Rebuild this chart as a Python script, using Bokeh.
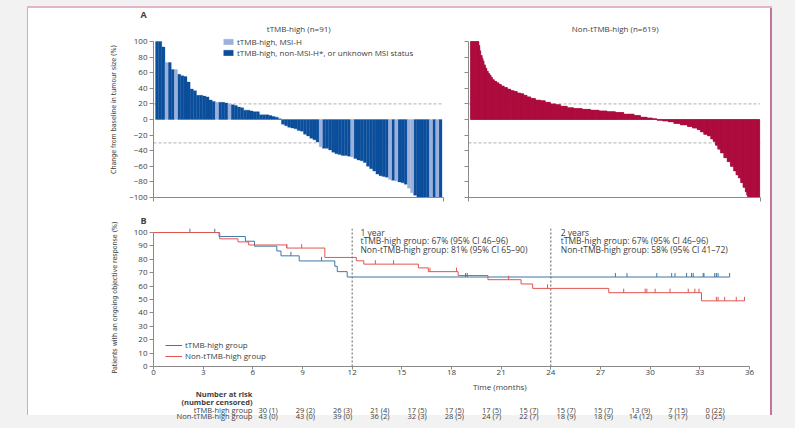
import numpy as np
from bokeh.plotting import figure
from bokeh.models import (Range1d, FixedTicker, Label, Legend, LegendItem, ColumnDataSource,
                          Span, Title, CustomLabelingPolicy)
from bokeh.layouts import column, row
from bokeh.embed import file_html
from bokeh.resources import INLINE

# ---------------- data ----------------
# Panel A: tTMB-high waterfall (91 patients, sorted)
tmb_change = [100, 100, 93, 73, 73, 64, 64, 58, 56, 55,
              48, 39, 37, 31, 31, 30, 29, 25, 23, 22,
              22, 22, 21, 20, 19, 18, 16, 15, 12, 12,
              11, 10, 10, 6, 6, 6, 5, 4, 3, 1,
              -6, -8, -10, -11, -12, -14, -15, -19, -21, -24,
              -26, -29, -35, -37, -37, -39, -42, -44, -45, -46,
              -46, -47, -48, -50, -52, -53, -55, -60, -63, -66,
              -70, -72, -73, -74, -77, -78, -79, -80, -81, -83,
              -88, -94, -97, -100, -100, -100, -100, -100, -100, -100, -100]
tmb_msih_idx = [3, 6, 19, 23, 52, 62, 74, 76, 80, 81, 87, 89]

# Panel A: non-tTMB-high waterfall (619 patients) as value levels and patient counts
non_levels = [100, 95, 88, 82, 78, 75, 70, 66, 62, 59,
              57, 54, 51, 49, 47, 45, 43, 41, 39, 37,
              36, 34, 33, 31, 29, 27, 25, 24, 22, 20,
              19, 17, 15, 14, 13, 12, 11, 10, 9, 7,
              5, 3, 2, 1, -1, -2, -3, -5, -7, -9,
              -11, -13, -16, -19, -21, -25, -28, -33, -38, -43,
              -49, -54, -60, -66, -71, -75, -81, -87, -93, -97,
              -100]
non_counts = [18, 2, 2, 3, 2, 2, 3, 3, 3, 3,
              3, 3, 4, 5, 5, 5, 6, 7, 7, 7,
              7, 7, 7, 7, 8, 10, 11, 10, 11, 11,
              11, 14, 14, 18, 18, 18, 17, 18, 18, 22,
              14, 14, 11, 10, 12, 12, 12, 14, 15, 11,
              10, 7, 7, 8, 7, 5, 5, 5, 6, 7,
              7, 7, 7, 5, 5, 5, 5, 5, 3, 2,
              26]

# Panel B: Kaplan-Meier duration of response
blue_t = [0, 3.96, 5.55, 6.1, 7.45, 7.7, 8.8, 10.95, 11.1, 11.7, 34.8]
blue_s = [100, 97, 93.5, 89.8, 86.2, 82.6, 78.8, 74.8, 70.8, 66.8, 66.8]
blue_cens_t = [2.2, 3.7, 8.3, 10.15, 18.85, 18.95, 27.9, 28.6, 30.4, 31.3, 31.5,
               32.2, 32.5, 32.6, 33.2, 33.25, 33.9, 34.0, 34.1, 34.8]

red_t = [0, 4.0, 5.1, 5.75, 8.05, 10.35, 12.25, 12.7, 16.0, 16.6, 18.4, 20.2,
         22.2, 22.9, 27.5, 33.1, 35.7]
red_s = [100, 95.3, 93.0, 90.7, 88.4, 81.4, 78.9, 76.4, 73.6, 70.8, 67.9, 64.8,
         61.6, 58.3, 55.1, 49.0, 49.0]
red_cens_t = [8.05, 8.95, 13.4, 14.5, 16.7, 18.3, 21.45, 23.8, 28.4, 29.7, 29.8,
              30.3, 31.2, 32.3, 32.7, 32.95, 34.0, 34.1, 34.5, 35.2, 35.7]

risk_months = [0, 3, 6, 9, 12, 15, 18, 21, 24, 27, 30, 33, 36]
risk_tmb = ["30 (1)", "29 (2)", "26 (3)", "21 (4)", "17 (5)", "17 (5)", "17 (5)",
            "15 (7)", "15 (7)", "15 (7)", "13 (9)", "7 (15)", "0 (22)"]
risk_non = ["43 (0)", "43 (0)", "39 (0)", "36 (2)", "32 (3)", "28 (5)", "24 (7)",
            "22 (7)", "18 (9)", "18 (9)", "14 (12)", "9 (17)", "0 (25)"]

ann_1y = ["1 year", "tTMB-high group: 67% (95% CI 46\u201396)",
          "Non-tTMB-high group: 81% (95% CI 65\u201390)"]
ann_2y = ["2 years", "tTMB-high group: 67% (95% CI 46\u201396)",
          "Non-tTMB-high group: 58% (95% CI 41\u201372)"]

# ---------------- style ----------------
FONT = "Open Sans"
NARROW = "'Liberation Sans Narrow', 'DejaVu Sans Condensed', 'Roboto', sans-serif"
TXT = "#404040"
AX = "#8a8a8a"
DARK_BLUE = "#0b4e9b"
LIGHT_BLUE = "#9cb0dc"
CRIMSON = "#ad0a3d"
KM_BLUE = "#3f77a8"
KM_RED = "#e2554f"

HIDE_LABELS = CustomLabelingPolicy(code="for (const i of indices) { indices.unset(i) }; return indices")


def base_style(p):
    p.xgrid.visible = False
    p.ygrid.visible = False
    p.outline_line_color = None
    p.border_fill_color = None
    p.background_fill_color = None
    for ax in p.axis:
        ax.axis_line_color = AX
        ax.major_tick_line_color = AX
        ax.minor_tick_line_color = None
        ax.major_tick_out = 4
        ax.major_tick_in = 0
        ax.major_label_text_font = FONT
        ax.major_label_text_font_size = "8px"
        ax.major_label_text_color = TXT
        ax.major_label_standoff = 2
        ax.axis_label_text_font = NARROW
        ax.axis_label_text_font_style = "normal"
        ax.axis_label_text_font_size = "7px"
        ax.axis_label_text_color = TXT


def hide_labels(ax):
    ax.major_label_policy = HIDE_LABELS
    ax.major_label_text_font_size = "1px"
    ax.major_label_standoff = 0


def add_label(p, x, y, text, size="8px", align="left", bold=False, color=TXT):
    p.add_layout(Label(x=x, y=y, text=text, text_font=FONT, text_font_size=size,
                       text_color=color, text_align=align, text_baseline="middle",
                       text_font_style="bold" if bold else "normal"))


def panel_letter(p, text, standoff):
    p.add_layout(Title(text=text, align="left", offset=-13, standoff=standoff, text_font=FONT,
                       text_font_size="9px", text_font_style="bold", text_color=TXT), "above")


# layout (pixels)
W = 795
A_H = 210
A_TOP = 21        # frame top of panel A
A_BOT = 13
A1_W = 453
B_H = 170
B_TOP = 14
B_BOT = 14
B_RIGHT = 46
R_H = 48
LEFT = 153

# ---------------- Panel A, left ----------------
a_frame_h = A_H - A_TOP - A_BOT
a_y_end = -100 + a_frame_h / (156.0 / 200.0)

n_tmb = len(tmb_change)
tmb_x = np.arange(n_tmb) + 0.5
is_msih = np.isin(np.arange(n_tmb), tmb_msih_idx)
tmb_vals = np.array(tmb_change, dtype=float)
src_msih = ColumnDataSource(dict(x=tmb_x[is_msih], v=tmb_vals[is_msih]))
src_other = ColumnDataSource(dict(x=tmb_x[~is_msih], v=tmb_vals[~is_msih]))

xa1 = Range1d(-0.64, n_tmb + 0.48)
pA1 = figure(width=A1_W, height=A_H, x_range=xa1, y_range=Range1d(-100, a_y_end),
             output_backend="svg", toolbar_location=None,
             min_border_left=LEFT, min_border_right=10, min_border_top=A_TOP, min_border_bottom=A_BOT)
for lvl in (20, -30):
    pA1.add_layout(Span(location=lvl, dimension="width", line_color="#9a9a9a",
                        line_dash="3 2", line_width=0.8, level="underlay"))
r_other = pA1.vbar(x="x", top="v", bottom=0, width=1, source=src_other,
                   fill_color=DARK_BLUE, line_color=DARK_BLUE, line_width=0.3)
r_msih = pA1.vbar(x="x", top="v", bottom=0, width=1, source=src_msih,
                  fill_color=LIGHT_BLUE, line_color=LIGHT_BLUE, line_width=0.3)
base_style(pA1)
pA1.yaxis.ticker = FixedTicker(ticks=list(range(-100, 101, 20)))
pA1.yaxis.bounds = (-100, 100)
pA1.xaxis.ticker = FixedTicker(ticks=[xa1.start, xa1.end])
hide_labels(pA1.xaxis[0])
pA1.yaxis.axis_label = "Change from baseline in tumour size (%)"
pA1.yaxis.axis_label_standoff = 8

legA = Legend(items=[LegendItem(label="tTMB-high, MSI-H", renderers=[r_msih]),
                     LegendItem(label="tTMB-high, non-MSI-H*, or unknown MSI status", renderers=[r_other])],
              location=(69, 139), border_line_alpha=0, background_fill_alpha=0,
              label_text_font=FONT, label_text_font_size="8px", label_text_color=TXT,
              glyph_width=12, glyph_height=7, label_height=9, spacing=-1, padding=0,
              margin=0, label_standoff=3)
pA1.add_layout(legA)
add_label(pA1, n_tmb / 2.0, 116.5, "tTMB-high (n=91)", align="center")
panel_letter(pA1, "A", 1)

# ---------------- Panel A, right ----------------
non_vals = np.repeat(np.array(non_levels, dtype=float), non_counts)
n_non = len(non_vals)
src_non = ColumnDataSource(dict(x=np.arange(n_non) + 0.5, v=non_vals))
xa2 = Range1d(-4.3, n_non + 1.5)
pA2 = figure(width=W - A1_W, height=A_H, x_range=xa2, y_range=Range1d(-100, a_y_end),
             output_backend="svg", toolbar_location=None,
             min_border_left=15, min_border_right=35, min_border_top=A_TOP, min_border_bottom=A_BOT)
for lvl in (20, -30):
    pA2.add_layout(Span(location=lvl, dimension="width", line_color="#9a9a9a",
                        line_dash="3 2", line_width=0.8, level="underlay"))
pA2.vbar(x="x", top="v", bottom=0, width=1, source=src_non,
         fill_color=CRIMSON, line_color=CRIMSON, line_width=0.5)
base_style(pA2)
pA2.yaxis.ticker = FixedTicker(ticks=list(range(-100, 101, 20)))
pA2.yaxis.bounds = (-100, 100)
hide_labels(pA2.yaxis[0])
pA2.xaxis.ticker = FixedTicker(ticks=[xa2.start, xa2.end])
hide_labels(pA2.xaxis[0])
add_label(pA2, n_non / 2.0, 116.5, "Non-tTMB-high (n=619)", align="center")

# ---------------- Panel B ----------------
pB = figure(width=W, height=B_H, x_range=Range1d(0, 36), y_range=Range1d(0, 103),
            output_backend="svg", toolbar_location=None,
            min_border_left=LEFT, min_border_right=B_RIGHT, min_border_top=B_TOP,
            min_border_bottom=B_BOT)
for m in (12, 24):
    pB.segment(x0=[m], y0=[0], x1=[m], y1=[103], line_color="#333333",
               line_dash="2 2", line_width=0.8)
r_blue = pB.step(x=blue_t, y=blue_s, mode="after", line_color=KM_BLUE, line_width=1)
r_red = pB.step(x=red_t, y=red_s, mode="after", line_color=KM_RED, line_width=1)


def surv_at(ts, ss, t):
    i = np.searchsorted(np.array(ts), t, side="right") - 1
    return ss[max(i, 0)]


bc_y = [surv_at(blue_t, blue_s, t) for t in blue_cens_t]
rc_y = [surv_at(red_t, red_s, t) for t in red_cens_t]
pB.segment(x0=blue_cens_t, y0=bc_y, x1=blue_cens_t, y1=[v + 3 for v in bc_y],
           line_color=KM_BLUE, line_width=1)
pB.segment(x0=red_cens_t, y0=rc_y, x1=red_cens_t, y1=[v + 3 for v in rc_y],
           line_color=KM_RED, line_width=1)
base_style(pB)
pB.xaxis.ticker = FixedTicker(ticks=list(range(0, 37, 3)))
pB.xaxis.major_tick_out = 3
pB.xaxis.major_label_standoff = 0
pB.yaxis.ticker = FixedTicker(ticks=list(range(0, 101, 10)))
pB.yaxis.bounds = (0, 100)
pB.yaxis.axis_label = "Patients with an ongoing objective response (%)"
pB.yaxis.axis_label_standoff = 12

legB = Legend(items=[LegendItem(label="tTMB-high group", renderers=[r_blue]),
                     LegendItem(label="Non-tTMB-high group", renderers=[r_red])],
              location=(12, 5), border_line_alpha=0, background_fill_alpha=0,
              label_text_font=FONT, label_text_font_size="8px", label_text_color=TXT,
              glyph_width=17, glyph_height=8, label_height=9, spacing=-2, padding=0,
              margin=0, label_standoff=3)
pB.add_layout(legB)

for i, s in enumerate(ann_1y):
    add_label(pB, 12.5, 100 - 6.3 * i, s, size="8.5px")
for i, s in enumerate(ann_2y):
    add_label(pB, 24.6, 100 - 6.3 * i, s, size="8.5px")
panel_letter(pB, "B", 3)

# ---------------- Number-at-risk table (same month scale as panel B) ----------------
px_per_month = (W - LEFT - B_RIGHT) / 36.0
pR = figure(width=W, height=R_H,
            x_range=Range1d(-LEFT / px_per_month, (W - LEFT) / px_per_month),
            y_range=Range1d(0, R_H), output_backend="svg", toolbar_location=None,
            x_axis_location=None, y_axis_location=None,
            min_border_left=0, min_border_right=0, min_border_top=0, min_border_bottom=0)
pR.xgrid.visible = False
pR.ygrid.visible = False
pR.outline_line_color = None
pR.border_fill_color = None
pR.background_fill_color = None

add_label(pR, 18.66, R_H - 6, "Time (months)", size="8px", align="center")
lab_x = -21.0 / px_per_month
add_label(pR, lab_x, R_H - 13, "Number at risk", size="7.5px", align="right", bold=True)
add_label(pR, lab_x, R_H - 21, "(number censored)", size="7.5px", align="right", bold=True)
add_label(pR, lab_x, R_H - 29, "tTMB-high group", size="7.5px", align="right")
add_label(pR, lab_x, R_H - 35.5, "Non-tTMB-high group", size="7.5px", align="right")
for m, a, b in zip(risk_months, risk_tmb, risk_non):
    add_label(pR, m, R_H - 29, a, size="7.5px", align="center")
    add_label(pR, m, R_H - 35.5, b, size="7.5px", align="center")

# ---------------- page ----------------
GRAY = "#f2f2f2"
bg_images = ", ".join([
    "linear-gradient(%s, %s)" % (GRAY, GRAY),                       # bottom strip
    "linear-gradient(#e2b6ca, #e2b6ca)",                            # top card border
    "linear-gradient(%s, %s)" % (GRAY, GRAY),                       # top strip
    ("linear-gradient(to right, %s 0px, %s 27px, #d9a6be 27px, #d9a6be 28px, "
     "#ffffff 28px, #ffffff 770px, #c4759a 770px, #c4759a 772px, %s 772px)") % (GRAY, GRAY, GRAY),
])
root = column(row(pA1, pA2), pB, pR,
              styles={"background-image": bg_images,
                      "background-size": "100% 13px, 745px 2px, 100% 6px, 100% 100%",
                      "background-position": "0px 415px, 27px 6px, 0px 0px, 0px 0px",
                      "background-repeat": "no-repeat"})

open("out.html", "w").write(file_html(root, INLINE))
